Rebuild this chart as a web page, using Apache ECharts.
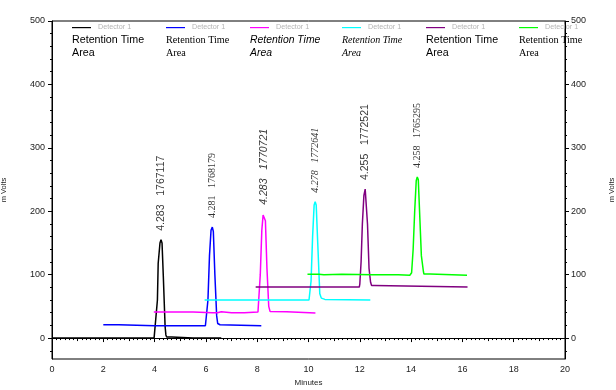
<!DOCTYPE html>
<html><head><meta charset="utf-8">
<script src="https://cdn.jsdelivr.net/npm/echarts@6/dist/echarts.min.js"></script>
<style>html,body{margin:0;padding:0;background:#fff}#c{width:616px;height:390px}</style>
</head><body><div id="c"></div>
<script>
// ---------- data ----------
const seriesColors = ['#000000', '#0000ff', '#ff00ff', '#00ffff', '#800080', '#00ff00'];
const detectorName = 'Detector 1';
const legendLine1 = 'Retention Time';
const legendLine2 = 'Area';
const retentionTimes = ['4.283', '4.281', '4.283', '4.278', '4.255', '4.258'];
const peakAreas = ['1767117', '1768179', '1770721', '1772641', '1772521', '1765295'];

const trace1Time  = [0, 1.0, 2.0, 3.0, 3.98, 3.99, 4.05, 4.11, 4.14, 4.21, 4.25, 4.29, 4.34, 4.41, 4.44, 4.47, 4.67, 4.69, 5.5, 6.6];
const trace1Volts = [0, 0, 0, 0, 0, 2.5, 3, 60, 118, 150, 155, 150, 97, 18, 5, 1.5, 1.5, 0, 0, 0];

const trace2Time  = [2.0, 2.6, 2.62, 4.0, 5.98, 6.0, 6.08, 6.14, 6.2, 6.25, 6.29, 6.35, 6.42, 6.46, 6.55, 6.57, 8.16];
const trace2Volts = [21, 21, 19.4, 19.4, 19.4, 22, 60, 130, 170, 175, 168, 100, 35, 23, 21, 19.4, 19.4];

const trace3Time  = [3.97, 5.5, 5.55, 6.25, 6.3, 6.35, 6.45, 6.5, 6.6, 6.65, 7.0, 7.5, 8.03, 8.05, 8.12, 8.18, 8.23, 8.28, 8.32, 8.38, 8.45, 8.5, 9.15, 9.17, 10.27];
const trace3Volts = [41, 41, 40, 40, 41.5, 40, 40, 41.5, 41.5, 40, 40, 40, 41, 44, 100, 170, 194, 196, 185, 110, 50, 42, 41.5, 39.5, 39.5];

const trace4Time  = [5.95, 8.0, 10.02, 10.04, 10.1, 10.16, 10.22, 10.26, 10.3, 10.36, 10.44, 10.5, 10.55, 10.64, 10.66, 12.41];
const trace4Volts = [60, 60, 60, 62, 90, 160, 210, 215, 210, 150, 70, 63, 61, 61, 60, 60];

const trace5Time  = [7.94, 10.0, 11.98, 12.0, 12.05, 12.1, 12.16, 12.21, 12.25, 12.3, 12.36, 12.42, 12.46, 12.56, 12.58, 16.2];
const trace5Volts = [80.4, 80.4, 80.4, 85, 120, 180, 225, 235, 232, 180, 110, 88, 83, 83, 80.4, 80.4];

const trace6Time  = [9.96, 10.4, 10.45, 10.6, 10.62, 11.3, 11.32, 12.5, 13.5, 13.55, 13.95, 14.02, 14.08, 14.14, 14.2, 14.24, 14.28, 14.33, 14.4, 14.48, 14.5, 14.74, 14.76, 16.18];
const trace6Volts = [100.8, 100.8, 99.8, 99.8, 100.8, 100.8, 99.7, 99.7, 99.7, 99, 99, 103, 140, 200, 248, 254, 250, 200, 130, 105, 101, 101, 99.2, 99.2];

const xAxisName = 'Minutes';
const yAxisName = 'm Volts';
const yLabelValues = [0, 100, 200, 300, 400, 500];
const yMinorValues = [-20, 20, 40, 60, 80, 120, 140, 160, 180, 220, 240, 260, 280, 320, 340, 360, 380, 420, 440, 460, 480];

// ---------- styling / layout ----------
const traceTimes = [trace1Time, trace2Time, trace3Time, trace4Time, trace5Time, trace6Time];
const traceVolts = [trace1Volts, trace2Volts, trace3Volts, trace4Volts, trace5Volts, trace6Volts];
const SANS = 'Liberation Sans', SERIF = 'Liberation Serif';
const fontStyles = [
  {fontFamily: SANS, fontStyle: 'normal', fontSize: 10.7, labelSize: 10.5},
  {fontFamily: SERIF, fontStyle: 'normal', fontSize: 10.2, labelSize: 10},
  {fontFamily: SANS, fontStyle: 'italic', fontSize: 10.4, labelSize: 10.5},
  {fontFamily: SERIF, fontStyle: 'italic', fontSize: 10, labelSize: 10},
  {fontFamily: SANS, fontStyle: 'normal', fontSize: 10.7, labelSize: 10.5},
  {fontFamily: SERIF, fontStyle: 'normal', fontSize: 10.2, labelSize: 10}
];
const legendX = [72, 166, 250, 342, 426, 519];
const Y_MIN = -33, Y_MAX = 500;

const series = [];
traceTimes.forEach((times, i) => {
  const vals = traceVolts[i];
  series.push({
    type: 'line', name: detectorName + ' #' + (i + 1),
    xAxisIndex: 0, yAxisIndex: 0,
    data: times.map((t, k) => [t, vals[k]]),
    showSymbol: false, silent: true, animation: false,
    lineStyle: {color: seriesColors[i], width: 1.5},
    itemStyle: {color: seriesColors[i]}
  });
});
traceTimes.forEach((times, i) => {
  const vals = traceVolts[i];
  const pk = vals.indexOf(Math.max(...vals));
  const f = fontStyles[i];
  series.push({
    type: 'scatter', xAxisIndex: 0, yAxisIndex: 0, silent: true, animation: false,
    symbolSize: 0, itemStyle: {color: 'transparent'},
    data: [[times[pk], vals[pk]]],
    label: {
      show: true, position: 'top', distance: 9, rotate: 90,
      align: 'left', verticalAlign: 'middle',
      formatter: retentionTimes[i] + '   ' + peakAreas[i],
      fontFamily: f.fontFamily, fontStyle: f.fontStyle, fontSize: f.labelSize, color: '#000'
    }
  });
});

const graphics = [];
seriesColors.forEach((c, i) => {
  const x = legendX[i], f = fontStyles[i];
  graphics.push({type: 'rect', shape: {x: x, y: 27, width: 19, height: 1.2}, style: {fill: c}, silent: true, z: 10});
  graphics.push({type: 'text', x: x + 26, y: 27.5, style: {text: detectorName, fill: '#b4b4b4', fontSize: 7.2, fontFamily: SANS, verticalAlign: 'middle'}, silent: true});
  graphics.push({type: 'text', x: x, y: 40, style: {text: legendLine1, fill: '#000', fontSize: f.fontSize, fontFamily: f.fontFamily, fontStyle: f.fontStyle, verticalAlign: 'middle'}, silent: true});
  graphics.push({type: 'text', x: x, y: 53, style: {text: legendLine2, fill: '#000', fontSize: f.fontSize, fontFamily: f.fontFamily, fontStyle: f.fontStyle, verticalAlign: 'middle'}, silent: true});
});

const axisLineStyle = {lineStyle: {color: '#000', width: 1}};
const tickLabel = {color: '#222', fontSize: 9, fontFamily: SANS};

const option = {
  animation: false,
  grid: {left: 52, right: 51, top: 21, bottom: 31, show: true, borderColor: '#000', borderWidth: 1,
         containLabel: false, outerBoundsMode: 'none'},
  xAxis: [
    {type: 'value', min: 0, max: 20, interval: 2, position: 'bottom',
     axisLine: axisLineStyle, axisTick: {show: true, length: 4, lineStyle: {color: '#000'}},
     minorTick: {show: true, splitNumber: 12, length: 2, lineStyle: {color: '#000'}},
     axisLabel: Object.assign({margin: 6}, tickLabel),
     splitLine: {show: false}, minorSplitLine: {show: false},
     name: xAxisName, nameLocation: 'middle', nameGap: 20,
     nameTextStyle: {fontSize: 8, fontFamily: SANS, color: '#222'}},
    {type: 'value', min: 0, max: 20, interval: 1, position: 'bottom',
     axisLine: {show: false}, axisTick: {show: true, length: 3, lineStyle: {color: '#000'}},
     axisLabel: {show: false}, splitLine: {show: false}}
  ],
  yAxis: [
    {type: 'value', min: Y_MIN, max: Y_MAX, position: 'left',
     axisLine: Object.assign({show: true}, axisLineStyle),
     axisTick: {show: true, length: 4, customValues: yLabelValues, lineStyle: {color: '#000'}},
     axisLabel: Object.assign({margin: 7, customValues: yLabelValues}, tickLabel),
     splitLine: {show: false},
     name: yAxisName, nameLocation: 'middle', nameGap: 44, nameRotate: 90,
     nameTextStyle: {fontSize: 7.5, fontFamily: SANS, color: '#222'}},
    {type: 'value', min: Y_MIN, max: Y_MAX, position: 'left',
     axisLine: {show: false},
     axisTick: {show: true, length: 2, customValues: yMinorValues, lineStyle: {color: '#000'}},
     axisLabel: {show: false}, splitLine: {show: false}},
    {type: 'value', min: Y_MIN, max: Y_MAX, position: 'right',
     axisLine: Object.assign({show: true}, axisLineStyle),
     axisTick: {show: true, length: 4, customValues: yLabelValues, lineStyle: {color: '#000'}},
     axisLabel: Object.assign({margin: 6, customValues: yLabelValues}, tickLabel),
     splitLine: {show: false},
     name: yAxisName, nameLocation: 'middle', nameGap: 43, nameRotate: 90,
     nameTextStyle: {fontSize: 7.5, fontFamily: SANS, color: '#222'}},
    {type: 'value', min: Y_MIN, max: Y_MAX, position: 'right',
     axisLine: {show: false},
     axisTick: {show: true, length: 2, customValues: yMinorValues, lineStyle: {color: '#000'}},
     axisLabel: {show: false}, splitLine: {show: false}}
  ],
  graphic: graphics,
  series: series
};
const chart = echarts.init(document.getElementById('c'), null, {renderer: 'canvas'});
chart.setOption(option);
</script></body></html>
